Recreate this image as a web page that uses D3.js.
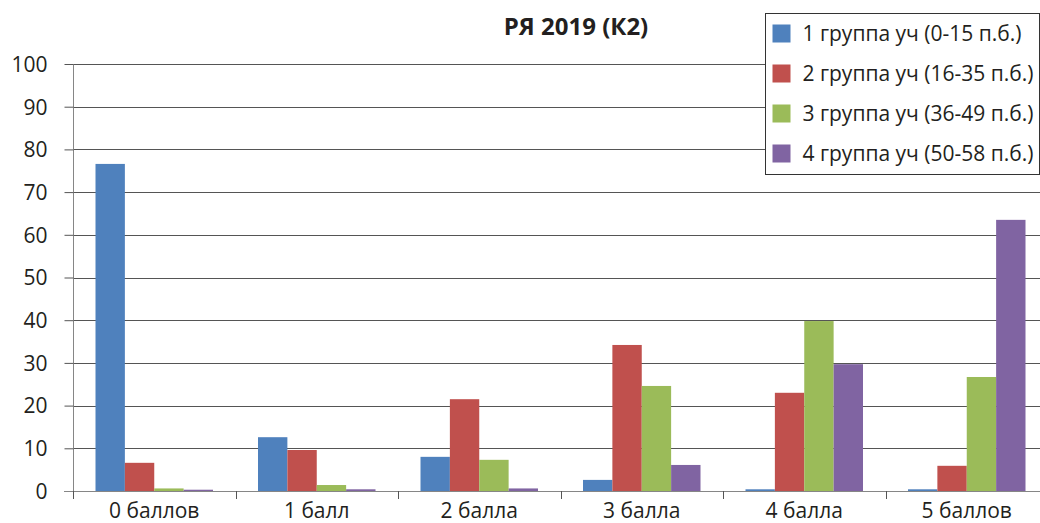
<!DOCTYPE html>
<html>
<head>
<meta charset="utf-8">
<script src="https://cdn.jsdelivr.net/npm/d3@7"></script>
<style>
  body { margin: 0; background: #fff; overflow: hidden; }
  svg text { font-family: "Open Sans", "Noto Sans", sans-serif; fill: #231f20; }
</style>
</head>
<body>
<div id="chart"></div>
<script>
var categories = ['0 баллов', '1 балл', '2 балла', '3 балла', '4 балла', '5 баллов'];
var seriesNames = [
  '1 группа уч (0-15 п.б.)',
  '2 группа уч (16-35 п.б.)',
  '3 группа уч (36-49 п.б.)',
  '4 группа уч (50-58 п.б.)'
];
var group1 = [76.6, 12.6, 8.0, 2.6, 0.4, 0.4];
var group2 = [6.6, 9.6, 21.5, 34.2, 23.0, 5.9];
var group3 = [0.6, 1.4, 7.3, 24.6, 39.8, 26.7];
var group4 = [0.3, 0.4, 0.6, 6.1, 29.7, 63.5];
var yTicks = [0, 10, 20, 30, 40, 50, 60, 70, 80, 90, 100];
var colors = ['#4f81bd', '#c0504d', '#9bbb59', '#8064a2'];

var allSeries = [group1, group2, group3, group4];

var width = 1040, height = 523;
var plotLeft = 73, plotRight = 1048, plotTop = 64, plotBottom = 491;

var svg = d3.select('#chart').append('svg')
  .attr('width', width)
  .attr('height', height);

var x = d3.scaleBand()
  .domain(categories)
  .range([plotLeft, plotRight]);

var xInner = d3.scaleBand()
  .domain(d3.range(seriesNames.length))
  .range([22.5, x.bandwidth() - 22.5]);

var y = d3.scaleLinear()
  .domain([0, 100])
  .range([plotBottom, plotTop]);

// gridlines
svg.append('g')
  .selectAll('line')
  .data(yTicks.slice(1))
  .enter()
  .append('line')
  .attr('x1', plotLeft).attr('x2', plotRight)
  .attr('y1', function(d) { return Math.round(y(d)) + 0.5; })
  .attr('y2', function(d) { return Math.round(y(d)) + 0.5; })
  .attr('stroke', '#555')
  .attr('stroke-width', 1);

// bars
var groups = svg.append('g')
  .selectAll('g')
  .data(categories)
  .enter()
  .append('g')
  .attr('transform', function(d) { return 'translate(' + x(d) + ',0)'; });

groups.selectAll('rect')
  .data(function(d, i) { return allSeries.map(function(s, k) { return { k: k, v: s[i] }; }); })
  .enter()
  .append('rect')
  .attr('x', function(d) { return xInner(d.k); })
  .attr('width', xInner.bandwidth())
  .attr('y', function(d) { return y(d.v); })
  .attr('height', function(d) { return y(0) - y(d.v); })
  .attr('fill', function(d) { return colors[d.k]; });

// y axis
var yAxis = svg.append('g')
  .attr('transform', 'translate(' + (plotLeft + 0.5) + ',0)')
  .call(d3.axisLeft(y).tickValues(yTicks).tickSize(9).tickPadding(17));
yAxis.select('.domain').attr('stroke', '#868686').attr('d', 'M0,' + plotTop + 'V' + (plotBottom + 8));
yAxis.selectAll('.tick line').attr('stroke', '#555');
yAxis.selectAll('.tick text')
  .style('font-size', '21px')
  .attr('dy', '0.35em');

// x axis
var xAxis = svg.append('g')
  .attr('transform', 'translate(0,' + (plotBottom + 0.5) + ')')
  .call(d3.axisBottom(x).tickSize(0).tickPadding(12));
xAxis.select('.domain').attr('stroke', '#868686').attr('d', 'M' + (plotLeft - 9) + ',0H' + plotRight);
xAxis.selectAll('.tick text').style('font-size', '21px');

svg.append('g')
  .selectAll('line')
  .data(categories)
  .enter()
  .append('line')
  .attr('x1', function(d) { return Math.round(x(d)) + 0.5; })
  .attr('x2', function(d) { return Math.round(x(d)) + 0.5; })
  .attr('y1', plotBottom)
  .attr('y2', plotBottom + 8)
  .attr('stroke', '#555');

// title
svg.append('text')
  .attr('x', 576)
  .attr('y', 35)
  .attr('text-anchor', 'middle')
  .style('font-size', '24px')
  .style('font-weight', 'bold')
  .text('РЯ 2019 (К2)');

// legend
var legend = svg.append('g').attr('transform', 'translate(765.5,13.5)');
legend.append('rect')
  .attr('width', 274)
  .attr('height', 161)
  .attr('fill', '#fff')
  .attr('stroke', '#333');

var item = legend.selectAll('.legend')
  .data(seriesNames)
  .enter()
  .append('g')
  .attr('class', 'legend')
  .attr('transform', function(d, i) { return 'translate(7,' + (11 + i * 40) + ')'; });

item.append('rect')
  .attr('width', 18)
  .attr('height', 18)
  .attr('fill', function(d, i) { return colors[i]; });

item.append('text')
  .attr('x', 30)
  .attr('y', 9)
  .attr('dy', '0.35em')
  .style('font-size', '21px')
  .text(function(d) { return d; });
</script>
</body>
</html>
